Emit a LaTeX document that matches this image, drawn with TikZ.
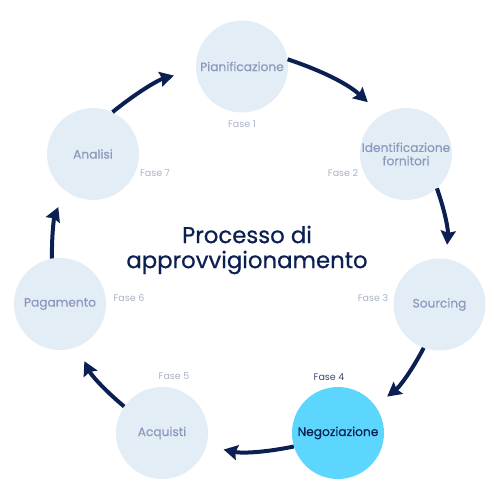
\documentclass[tikz,border=0pt]{standalone}
\usepackage{fontspec}
\setmainfont{Poppins}
\usetikzlibrary{arrows.meta}
\definecolor{navy}{HTML}{0C1F52}
\definecolor{pale}{HTML}{E3EDF6}
\definecolor{sky}{HTML}{5DD6FE}
\definecolor{labelgrey}{HTML}{8C99BC}
\definecolor{fasegrey}{HTML}{A9B2C7}
\definecolor{fasedark}{HTML}{3A4A72}

\begin{document}
\begin{tikzpicture}[x=1pt,y=1pt,
  phase/.style={circle,fill=pale,minimum size=92pt,inner sep=0pt,text=labelgrey,
    font=\fontsize{12.2}{13.3}\selectfont\addfontfeature{FakeBold=0.3},align=center},
  hot/.style={fill=sky,text=navy},
  faselbl/.style={text=fasegrey,font=\fontsize{9.5}{10}\selectfont},
  flow/.style={line width=4pt,draw=navy,-{Stealth[length=14pt,width=15pt,inset=2pt]},bend left=12}]

\useasboundingbox (0,0) rectangle (500,500);

\node [phase] (pian) at (242,433.5) {Pianificazione};
\node [phase] (ident) at (406,346) {Identificazione\\fornitori};
\node [phase] (sourc) at (439.5,195.5) {Sourcing};
\node [phase,hot] (negoz) at (338,67) {Negoziazione};
\node [phase] (acqu) at (162,67) {Acquisti};
\node [phase] (pagam) at (60,196) {Pagamento};
\node [phase] (anal) at (93,346) {Analisi};

\node [faselbl] (f1) at (242,375.5) {Fase 1};
\node [faselbl] (f2) at (343,327) {Fase 2};
\node [faselbl] (f3) at (373,202.3) {Fase 3};
\node [faselbl,text=fasedark] (f4) at (329,123.3) {Fase 4};
\node [faselbl] (f5) at (174,124) {Fase 5};
\node [faselbl] (f6) at (129,202) {Fase 6};
\node [faselbl] (f7) at (155,326.7) {Fase 7};

\node [text=navy,align=center,font=\fontsize{22.8}{25}\selectfont\addfontfeature{FakeBold=0.6}] (titolo) at (247,250)
  {Processo di\\approvvigionamento};

\draw [flow,shorten >=18.7pt] (pian.9) to (ident.122);
\draw [flow,shorten >=14pt] (ident.-48) to (sourc.82);
\draw [flow,shorten >=15pt] (sourc.250) to (negoz.36);
\draw [flow,shorten >=17.6pt] (negoz.197) to (acqu.-16);
\draw [flow,shorten >=16pt] (acqu.145) to (pagam.-68);
\draw [flow,shorten >=17.6pt] (pagam.100) to (anal.-127);
\draw [flow,shorten >=22.8pt] (anal.65) to (pian.184);

\end{tikzpicture}
\end{document}
